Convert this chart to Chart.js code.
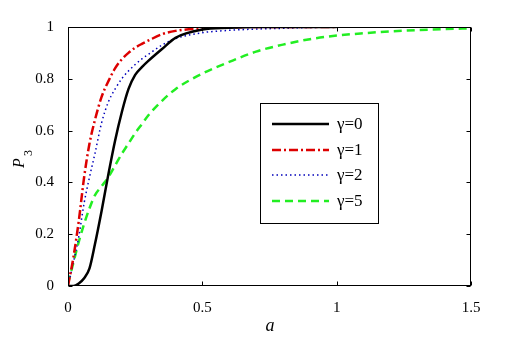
<!DOCTYPE html>
<html>
<head>
<meta charset="utf-8">
<script src="https://cdn.jsdelivr.net/npm/chart.js@4/dist/chart.umd.min.js"></script>
<style>
html,body{margin:0;padding:0;background:#fff;}
#wrap{width:520px;height:340px;position:relative;}
</style>
</head>
<body>
<div id="wrap"><canvas id="c" width="520" height="340"></canvas></div>
<script>
const aGrid = [0, 0.02, 0.04, 0.06, 0.08, 0.1, 0.125, 0.15, 0.175, 0.2, 0.225, 0.25, 0.275, 0.3, 0.35, 0.4, 0.5, 0.6, 0.7, 0.8, 0.9, 1.0, 1.1, 1.2, 1.3, 1.4, 1.5];
const seriesLabels = ['γ=0', 'γ=1', 'γ=2', 'γ=5'];
const pGamma0 = [0, 0.0, 0.01, 0.03, 0.068, 0.16, 0.29, 0.43, 0.56, 0.67, 0.76, 0.815, 0.845, 0.87, 0.915, 0.958, 0.99, 0.997, 1, 1, 1, 1, null, null, null, null, null];
const pGamma1 = [0, 0.11, 0.25, 0.42, 0.55, 0.64, 0.73, 0.79, 0.84, 0.875, 0.90, 0.92, 0.935, 0.948, 0.972, 0.985, 0.995, 0.999, 1, 1, 1, 1, null, null, null, null, null];
const pGamma2 = [0, 0.09, 0.19, 0.32, 0.42, 0.51, 0.63, 0.71, 0.76, 0.80, 0.83, 0.855, 0.877, 0.895, 0.93, 0.955, 0.978, 0.987, 0.992, 0.995, 0.998, 1.0, null, null, null, null, null];
const pGamma5 = [0.01, 0.09, 0.17, 0.24, 0.30, 0.35, 0.385, 0.42, 0.465, 0.51, 0.55, 0.59, 0.625, 0.66, 0.715, 0.76, 0.82, 0.865, 0.905, 0.932, 0.953, 0.967, 0.976, 0.983, 0.988, 0.992, 0.995];
const xTicks = [0, 0.5, 1, 1.5];
const yTicks = [0, 0.2, 0.4, 0.6, 0.8, 1];

function pts(vals){
  const out = [];
  aGrid.forEach((a,i)=>{ if(vals[i]!==null) out.push({x:a, y:vals[i]}); });
  return out;
}
const styles = [
  {color:'#000000', width:2.5, dash:[]},
  {color:'#dd0000', width:2.5, dash:[9,3,2,3]},
  {color:'#0000bb', width:1.5, dash:[1.5,3]},
  {color:'#22ee22', width:2.5, dash:[8,5]}
];
const allP = [pGamma0, pGamma1, pGamma2, pGamma5];
const datasets = allP.map((v,i)=>({
  label: seriesLabels[i],
  data: pts(v),
  borderColor: styles[i].color,
  borderWidth: styles[i].width,
  borderDash: styles[i].dash,
  pointRadius: 0,
  fill: false,
  cubicInterpolationMode: 'monotone'
}));

const serif = "'Liberation Serif','Times New Roman',serif";

const decor = {
  id: 'decor',
  afterDatasetsDraw(chart){
    const ctx = chart.ctx, ca = chart.chartArea;
    const xs = chart.scales.x, ys = chart.scales.y;
    ctx.save();
    ctx.strokeStyle = '#000';
    ctx.lineWidth = 1;
    ctx.setLineDash([]);
    const L = Math.round(ca.left)+0.5, R = Math.round(ca.right)-0.5, T = Math.round(ca.top)+0.5, B = Math.round(ca.bottom)-0.5;
    ctx.strokeRect(L, T, R-L, B-T);
    ctx.beginPath();
    xTicks.forEach(v=>{
      const px = Math.round(xs.getPixelForValue(v))+0.5;
      ctx.moveTo(px, B); ctx.lineTo(px, B-4);
      ctx.moveTo(px, T); ctx.lineTo(px, T+4);
    });
    yTicks.forEach(v=>{
      const py = Math.round(ys.getPixelForValue(v))+0.5;
      ctx.moveTo(L, py); ctx.lineTo(L+4, py);
      ctx.moveTo(R, py); ctx.lineTo(R-4, py);
    });
    ctx.stroke();

    // legend box
    const lx=260.5, ly=103.5, lw=118, lh=120;
    ctx.fillStyle='#fff';
    ctx.fillRect(lx,ly,lw,lh);
    ctx.strokeRect(lx,ly,lw,lh);
    const rows=[124,150,175,201];
    chart.data.datasets.forEach((ds,i)=>{
      ctx.beginPath();
      ctx.strokeStyle=ds.borderColor;
      ctx.lineWidth=ds.borderWidth;
      ctx.setLineDash(ds.borderDash);
      ctx.moveTo(272, rows[i]); ctx.lineTo(329, rows[i]);
      ctx.stroke();
      ctx.setLineDash([]);
      ctx.fillStyle='#000';
      ctx.font = "17px " + serif;
      ctx.textAlign='left'; ctx.textBaseline='middle';
      ctx.fillText(ds.label, 337, rows[i]+1);
    });

    // axis titles
    ctx.fillStyle='#000';
    ctx.font = "italic 18px " + serif;
    ctx.textAlign='center'; ctx.textBaseline='middle';
    ctx.fillText('a', 270, 326);
    ctx.translate(20, 163);
    ctx.rotate(-Math.PI/2);
    ctx.font = "italic 16px " + serif;
    ctx.textAlign='center';
    ctx.fillText('P', 0, 0);
    ctx.font = "12px " + serif;
    ctx.fillText('3', 10, 9);
    ctx.restore();
  }
};

new Chart(document.getElementById('c'), {
  type: 'line',
  data: { datasets },
  plugins: [decor],
  options: {
    responsive: false,
    animation: false,
    layout: { padding: { top: 27, right: 49, left: 0, bottom: 0 } },
    plugins: { legend: { display: false }, tooltip: { enabled: false } },
    scales: {
      x: {
        type: 'linear', min: 0, max: 1.5,
        afterFit(s){ s.height = 54; },
        afterBuildTicks(s){ s.ticks = xTicks.map(v=>({value:v})); },
        grid: { display: false },
        border: { display: false },
        ticks: { padding: 5, color: '#000', font: { family: serif, size: 15 }, maxRotation: 0,
                 callback: v => String(+v.toFixed(1)) }
      },
      y: {
        type: 'linear', min: 0, max: 1,
        afterFit(s){ s.width = 68; },
        afterBuildTicks(s){ s.ticks = yTicks.map(v=>({value:v})); },
        grid: { display: false },
        border: { display: false },
        ticks: { padding: 6, color: '#000', font: { family: serif, size: 15 },
                 callback: v => String(+v.toFixed(1)) }
      }
    }
  }
});
</script>
</body>
</html>
